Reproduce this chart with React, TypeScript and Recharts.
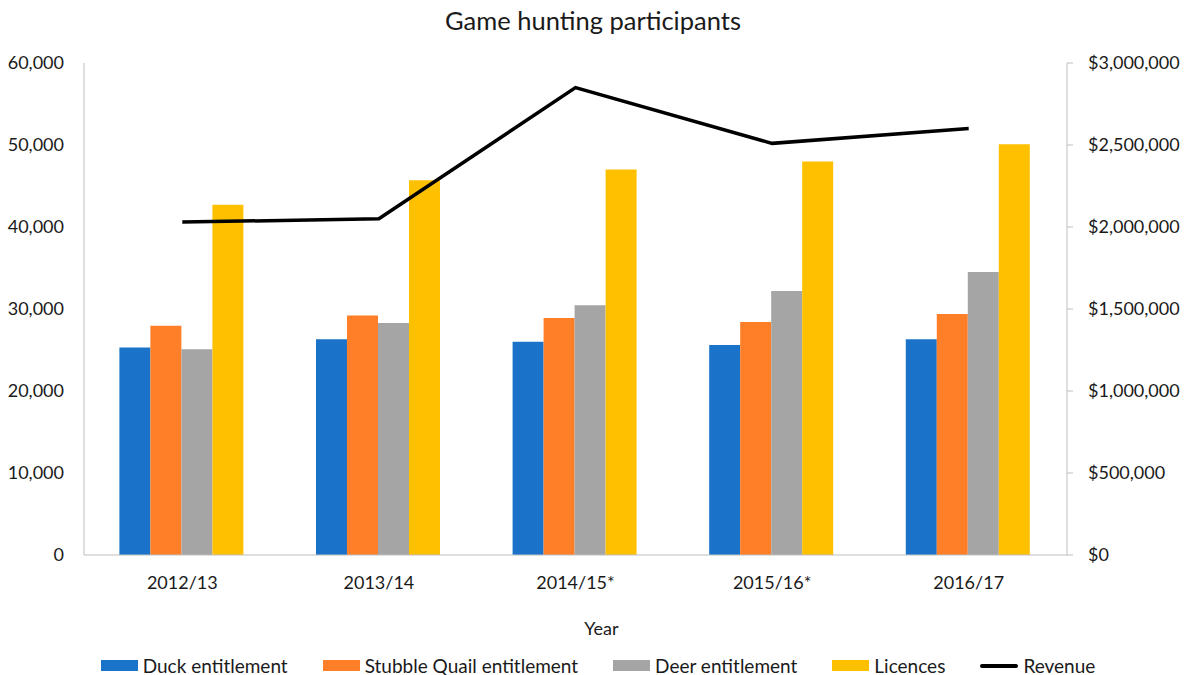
import React from 'react';
import { ComposedChart, Bar, Line, XAxis, YAxis, Legend } from 'recharts';

const categories = ['2012/13', '2013/14', '2014/15*', '2015/16*', '2016/17'];
const duck = [25300, 26300, 26000, 25600, 26300];
const quail = [27950, 29200, 28900, 28400, 29400];
const deer = [25100, 28300, 30450, 32200, 34500];
const licences = [42700, 45700, 47000, 48000, 50100];
const revenue = [2030000, 2050000, 2850000, 2510000, 2600000];
const leftTicks = [0, 10000, 20000, 30000, 40000, 50000, 60000];
const rightTicks = [0, 500000, 1000000, 1500000, 2000000, 2500000, 3000000];
const legendOrder = ['Duck entitlement', 'Stubble Quail entitlement', 'Deer entitlement', 'Licences', 'Revenue'];

const data = categories.map((c, i) => ({
  year: c,
  duck: duck[i],
  quail: quail[i],
  deer: deer[i],
  licences: licences[i],
  revenue: revenue[i],
}));

const FONT = 'Lato, "Open Sans", sans-serif';
const AXIS = '#bfbfbf';
const TXT = '#1a1a1a';

const renderLegend = (props: any) => {
  const payload = [...(props.payload || [])].sort(
    (a: any, b: any) => legendOrder.indexOf(a.value) - legendOrder.indexOf(b.value)
  );
  return (
    <div style={{ display: 'flex', justifyContent: 'center', alignItems: 'center', fontFamily: FONT, fontSize: 19, color: TXT, paddingLeft: 10 }}>
      {payload.map((p: any, i: number) => (
        <div key={i} style={{ display: 'flex', alignItems: 'center', marginRight: i < payload.length - 1 ? 35 : 0 }}>
          {p.type === 'line' ? (
            <div style={{ width: 38, height: 4, background: p.color, borderRadius: 2, marginRight: 5 }} />
          ) : (
            <div style={{ width: 37, height: 11, background: p.color, marginRight: 5 }} />
          )}
          <span>{p.value}</span>
        </div>
      ))}
    </div>
  );
};

export default function App() {
  return (
    <div style={{ position: 'absolute', left: 0, top: 0, width: 1186, height: 675, background: '#fff' }}>
      <div style={{ position: 'absolute', left: 0, top: 5, width: 1186, textAlign: 'center', fontFamily: FONT, fontSize: 25.5, color: TXT }}>
        Game hunting participants
      </div>
      <ComposedChart
        width={1186}
        height={675}
        data={data}
        margin={{ top: 63, right: 0, bottom: 0, left: 0 }}
        barCategoryGap="18%"
        barGap={0}
        style={{ fontFamily: FONT }}
      >
        <XAxis
          dataKey="year"
          height={120}
          stroke={AXIS}
          tickLine={false}
          tickSize={6}
          tickMargin={15}
          tick={{ fill: TXT, fontSize: 18, fontFamily: FONT }}
          label={{ value: 'Year', position: 'insideBottom', offset: 40, dx: 26, fill: TXT, fontSize: 18, fontFamily: FONT }}
        />
        <YAxis
          yAxisId="left"
          orientation="left"
          width={84}
          domain={[0, 60000]}
          ticks={leftTicks}
          stroke={AXIS}
          tickLine={false}
          tickSize={6}
          tickMargin={14}
          tick={{ fill: TXT, fontSize: 18, fontFamily: FONT }}
          tickFormatter={(v: number) => v.toLocaleString('en-US')}
        />
        <YAxis
          yAxisId="right"
          orientation="right"
          width={119}
          domain={[0, 3000000]}
          ticks={rightTicks}
          stroke={AXIS}
          tickSize={6}
          tickMargin={15}
          tick={{ fill: TXT, fontSize: 18, fontFamily: FONT }}
          tickFormatter={(v: number) => '$' + v.toLocaleString('en-US')}
        />
        <Bar yAxisId="left" dataKey="duck" name="Duck entitlement" fill="#1a73c8" isAnimationActive={false} />
        <Bar yAxisId="left" dataKey="quail" name="Stubble Quail entitlement" fill="#fe7f27" isAnimationActive={false} />
        <Bar yAxisId="left" dataKey="deer" name="Deer entitlement" fill="#a5a5a5" isAnimationActive={false} />
        <Bar yAxisId="left" dataKey="licences" name="Licences" fill="#ffc000" isAnimationActive={false} />
        <Line yAxisId="right" dataKey="revenue" name="Revenue" type="linear" stroke="#000" strokeWidth={3.5} dot={false} activeDot={false} legendType="line" isAnimationActive={false} />
        <Legend
          verticalAlign="middle"
          align="center"
          layout="horizontal"
          content={renderLegend}
          wrapperStyle={{ top: 654, left: 0, width: 1186 }}
        />
      </ComposedChart>
    </div>
  );
}
